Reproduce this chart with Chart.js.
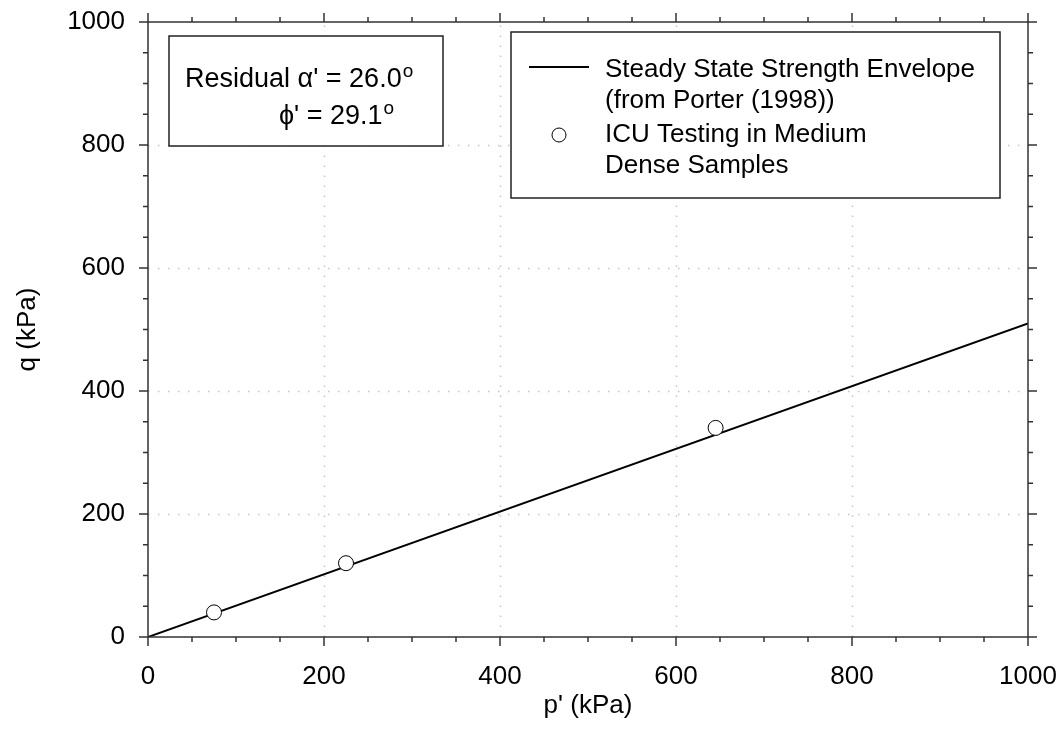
<!DOCTYPE html>
<html>
<head>
<style>
  html, body { margin: 0; padding: 0; background: #fff; }
  #wrap { width: 1063px; height: 753px; }
</style>
</head>
<body>
<div id="wrap"><canvas id="_chart" width="1063" height="753"></canvas></div>

<script src="https://cdn.jsdelivr.net/npm/chart.js"></script>
<script>
// envelope line (from Porter 1998)
const envP = [0, 1000];
const envQ = [0, 510];
// ICU tests, medium dense samples
const testP = [75, 225, 645];
const testQ = [40, 120, 340];

const xTicks = [0, 200, 400, 600, 800, 1000];
const yTicks = [0, 200, 400, 600, 800, 1000];

const FONT = '"Liberation Sans", Arial, sans-serif';

const toXY = (xs, ys) => xs.map((x, i) => ({ x: x, y: ys[i] }));

// dotted grid, frame, in/out ticks and the two text boxes
const decor = {
	id: 'decor',
	beforeDatasetsDraw(chart) {
		const { ctx, chartArea: a, scales: { x, y } } = chart;
		ctx.save();
		ctx.strokeStyle = '#c4c4c4';
		ctx.lineWidth = 1.5;
		ctx.setLineDash([1.5, 8.5]);
		for (const v of xTicks.slice(1, -1)) {
			const px = Math.round(x.getPixelForValue(v)) + 0.5;
			ctx.beginPath(); ctx.moveTo(px, a.bottom); ctx.lineTo(px, a.top); ctx.stroke();
		}
		for (const v of yTicks.slice(1, -1)) {
			const py = Math.round(y.getPixelForValue(v)) + 0.5;
			ctx.beginPath(); ctx.moveTo(a.left, py); ctx.lineTo(a.right, py); ctx.stroke();
		}
		ctx.restore();
	},
	afterDatasetsDraw(chart) {
		const { ctx, chartArea: a, scales: { x, y } } = chart;
		ctx.save();
		ctx.strokeStyle = '#333';
		ctx.lineWidth = 1.5;
		ctx.strokeRect(a.left, a.top, a.right - a.left, a.bottom - a.top);

		ctx.beginPath();
		for (let v = 0; v <= 1000; v += 50) {
			const len = v % 200 === 0 ? 9 : 5;
			const px = x.getPixelForValue(v);
			ctx.moveTo(px, a.bottom); ctx.lineTo(px, a.bottom + len);
			ctx.moveTo(px, a.top); ctx.lineTo(px, a.top - len);
			const py = y.getPixelForValue(v);
			ctx.moveTo(a.left, py); ctx.lineTo(a.left - len, py);
			ctx.moveTo(a.right, py); ctx.lineTo(a.right + len, py);
		}
		ctx.stroke();

		// box 1: residual angles
		ctx.fillStyle = '#fff';
		ctx.strokeStyle = '#222';
		ctx.lineWidth = 1.5;
		ctx.fillRect(a.left + 21, a.top + 14, 274, 110);
		ctx.strokeRect(a.left + 21, a.top + 14, 274, 110);

		ctx.fillStyle = '#000';
		ctx.textBaseline = 'alphabetic';
		ctx.textAlign = 'left';
		const sup = (txt, x0, y0) => {
			ctx.font = '27px ' + FONT;
			ctx.fillText(txt, x0, y0);
			const w = ctx.measureText(txt).width;
			ctx.font = '19px ' + FONT;
			ctx.fillText('o', x0 + w + 1, y0 - 10);
		};
		sup("Residual \u03B1' = 26.0", a.left + 37, a.top + 65);
		sup("\u03D5' = 29.1", a.left + 131, a.top + 102);

		// box 2: legend
		ctx.fillStyle = '#fff';
		ctx.fillRect(a.left + 363, a.top + 10, 489, 166);
		ctx.strokeRect(a.left + 363, a.top + 10, 489, 166);

		ctx.strokeStyle = '#000';
		ctx.lineWidth = 2;
		ctx.beginPath();
		ctx.moveTo(a.left + 381, a.top + 45); ctx.lineTo(a.left + 441, a.top + 45);
		ctx.stroke();
		ctx.lineWidth = 1;
		ctx.fillStyle = '#fff';
		ctx.beginPath();
		ctx.arc(a.left + 411, a.top + 113, 7, 0, Math.PI * 2);
		ctx.fill(); ctx.stroke();

		ctx.fillStyle = '#000';
		ctx.font = '26px ' + FONT;
		const lines = ['Steady State Strength Envelope', '(from Porter (1998))', 'ICU Testing in Medium', 'Dense Samples'];
		const base = [55, 86, 120, 151];
		lines.forEach((t, i) => ctx.fillText(t, a.left + 457, a.top + base[i]));
		ctx.restore();
	}
};

var chart = new Chart(_chart, {
	type: 'scatter',
	data: {
		datasets: [
			{
				type: 'line',
				label: 'Steady State Strength Envelope (from Porter (1998))',
				data: toXY(envP, envQ),
				borderColor: '#000',
				borderWidth: 2,
				pointRadius: 0,
				fill: false,
				order: 2
			},
			{
				label: 'ICU Testing in Medium Dense Samples',
				data: toXY(testP, testQ),
				backgroundColor: '#fff',
				borderColor: '#000',
				borderWidth: 1,
				radius: 7.5,
				order: 1
			}
		]
	},
	options: {
		responsive: false,
		animation: false,
		layout: { padding: { left: 0, right: 35, top: 22, bottom: 0 } },
		plugins: {
			legend: { display: false },
			tooltip: { enabled: false }
		},
		scales: {
			x: {
				type: 'linear',
				min: 0, max: 1000,
				afterBuildTicks: s => { s.ticks = xTicks.map(v => ({ value: v })); },
				afterFit: s => { s.height = 116; s.paddingLeft = 0; s.paddingRight = 0; },
				grid: { display: false, drawTicks: false },
				border: { display: false },
				ticks: { color: '#000', padding: 24, maxRotation: 0, callback: v => String(v), font: { size: 26, family: FONT } },
				title: { display: true, text: "p' (kPa)", color: '#000', padding: { bottom: 32 }, font: { size: 26, family: FONT } }
			},
			y: {
				type: 'linear',
				min: 0, max: 1000,
				afterBuildTicks: s => { s.ticks = yTicks.map(v => ({ value: v })); },
				afterFit: s => { s.width = 148; s.paddingTop = 0; s.paddingBottom = 0; },
				grid: { display: false, drawTicks: false },
				border: { display: false },
				ticks: { color: '#000', padding: 23, callback: v => String(v), font: { size: 26, family: FONT } },
				title: { display: true, text: 'q (kPa)', color: '#000', padding: { top: 12 }, font: { size: 26, family: FONT } }
			}
		}
	},
	plugins: [decor]
});
</script>
</body>
</html>
